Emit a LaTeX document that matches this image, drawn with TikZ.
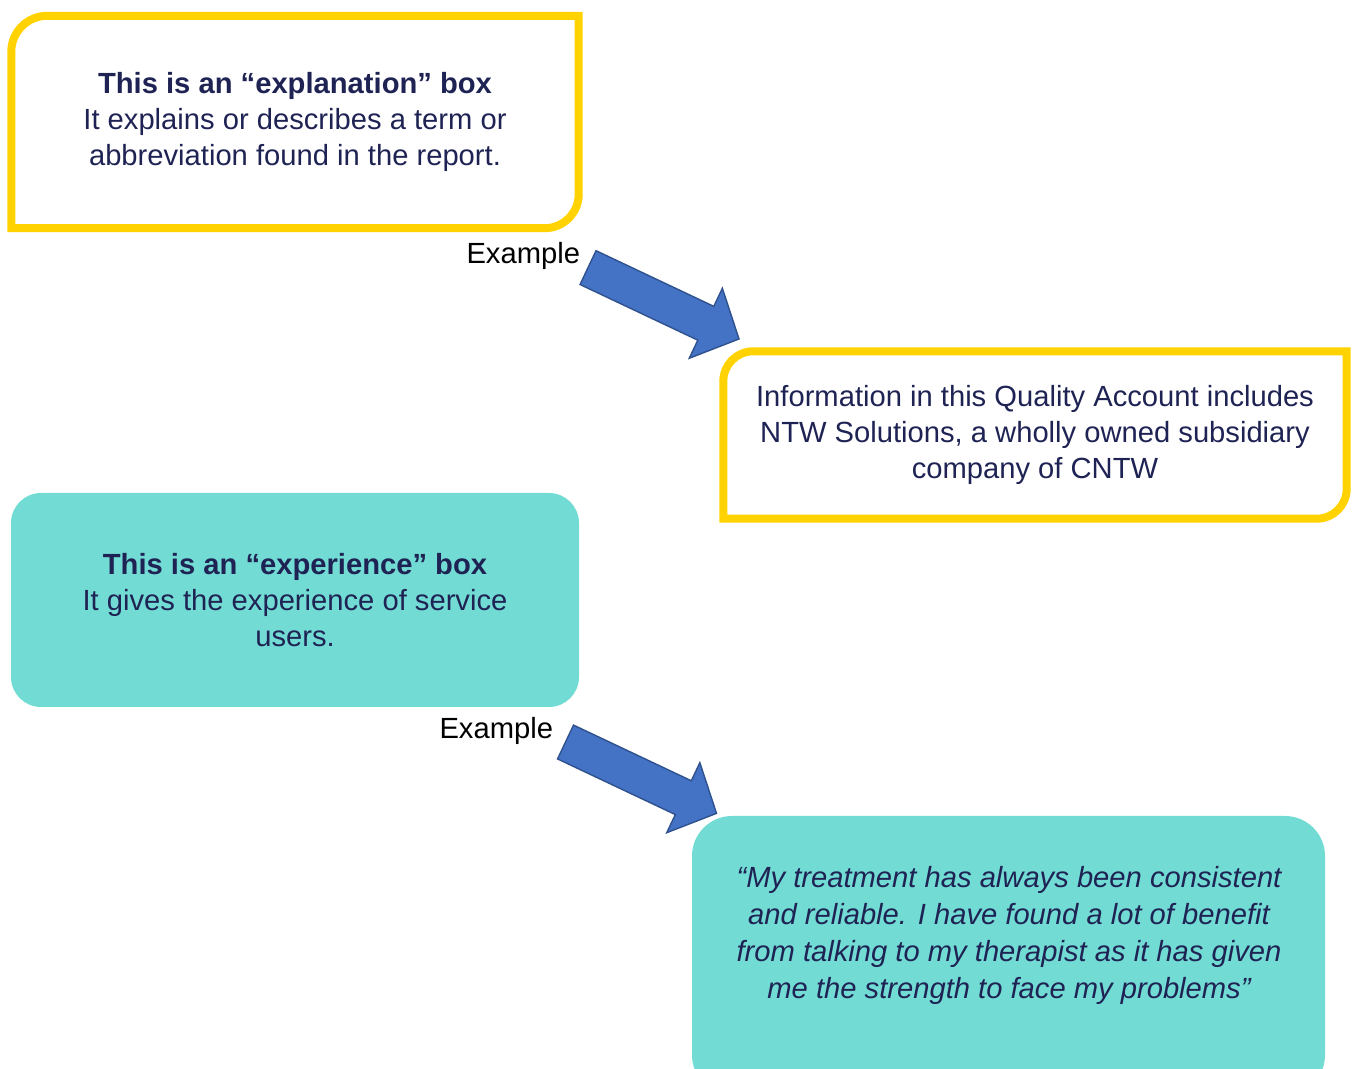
\documentclass[tikz,border=0pt]{standalone}
\usepackage{fontspec}
\setmainfont{Liberation Sans}
\usetikzlibrary{shapes.arrows, positioning}
\definecolor{navy}{RGB}{31,35,84}
\definecolor{gold}{RGB}{255,210,0}
\definecolor{aqua}{RGB}{114,220,212}
\definecolor{arrowblue}{RGB}{68,114,196}
\definecolor{arrowedge}{RGB}{47,82,143}

\begin{document}
\begin{tikzpicture}[font=\fontsize{8.3}{10.2}\selectfont,textbox/.style={text=navy, align=center, inner sep=0pt},goldline/.style={draw=gold, line width=0.8mm},aquabox/.style={textbox, fill=aqua, rounded corners=3mm, minimum width=5.68cm, minimum height=2.14cm},blockarrow/.style={single arrow, fill=arrowblue, draw=arrowedge, thin, minimum height=1.67cm, minimum width=0.76cm, single arrow head extend=0.2cm, single arrow tip angle=93, inner xsep=0pt, inner ysep=1.8mm, rotate=-25.3},tag/.style={text=black, inner sep=0pt}]
\useasboundingbox (0,0) rectangle (13.54,10.68);
\node[textbox, minimum width=5.66cm, minimum height=2.11cm] (expl) at (2.95,9.46) {\textbf{This is an “explanation” box}\\It explains or describes a term or\\abbreviation found in the report.};
\draw[goldline] ([yshift=-3.6mm]expl.north west) arc[start angle=180, end angle=90, radius=3.6mm] -- (expl.north east) -- ([yshift=3.4mm]expl.south east) arc[start angle=0, end angle=-90, radius=3.4mm] -- (expl.south west) -- cycle;
\node[textbox, minimum width=6.22cm, minimum height=1.66cm] (info) at (10.35,6.33) {Information in this Quality Account includes\\NTW Solutions, a wholly owned subsidiary\\company of CNTW};
\draw[goldline] ([yshift=-3mm]info.north west) arc[start angle=180, end angle=90, radius=3mm] -- (info.north east) -- ([yshift=3mm]info.south east) arc[start angle=0, end angle=-90, radius=3mm] -- (info.south west) -- cycle;
\node[aquabox] (exp) at (2.95,4.68) {\textbf{This is an “experience” box}\\It gives the experience of service\\users.};
\node[aquabox, rounded corners=4mm, minimum width=6.33cm, minimum height=2.79cm] (quote) at (10.085,1.125) {};
\node[textbox, font=\fontsize{8.3}{10.45}\selectfont\itshape] (quotetext) at (10.09,1.325) {“My treatment has always been consistent\\and reliable. I have found a lot of benefit\\from talking to my therapist as it has given\\me the strength to face my problems”};
\node[tag, below left=1.3mm and -0.2mm of expl.south east] (ex1) {Example};
\node[tag, below left=0.9mm and 2.6mm of exp.south east] (ex2) {Example};
\node[blockarrow] (arr1) at (6.555,7.685) {};
\node[blockarrow] (arr2) at (6.33,2.941) {};
\end{tikzpicture}
\end{document}
